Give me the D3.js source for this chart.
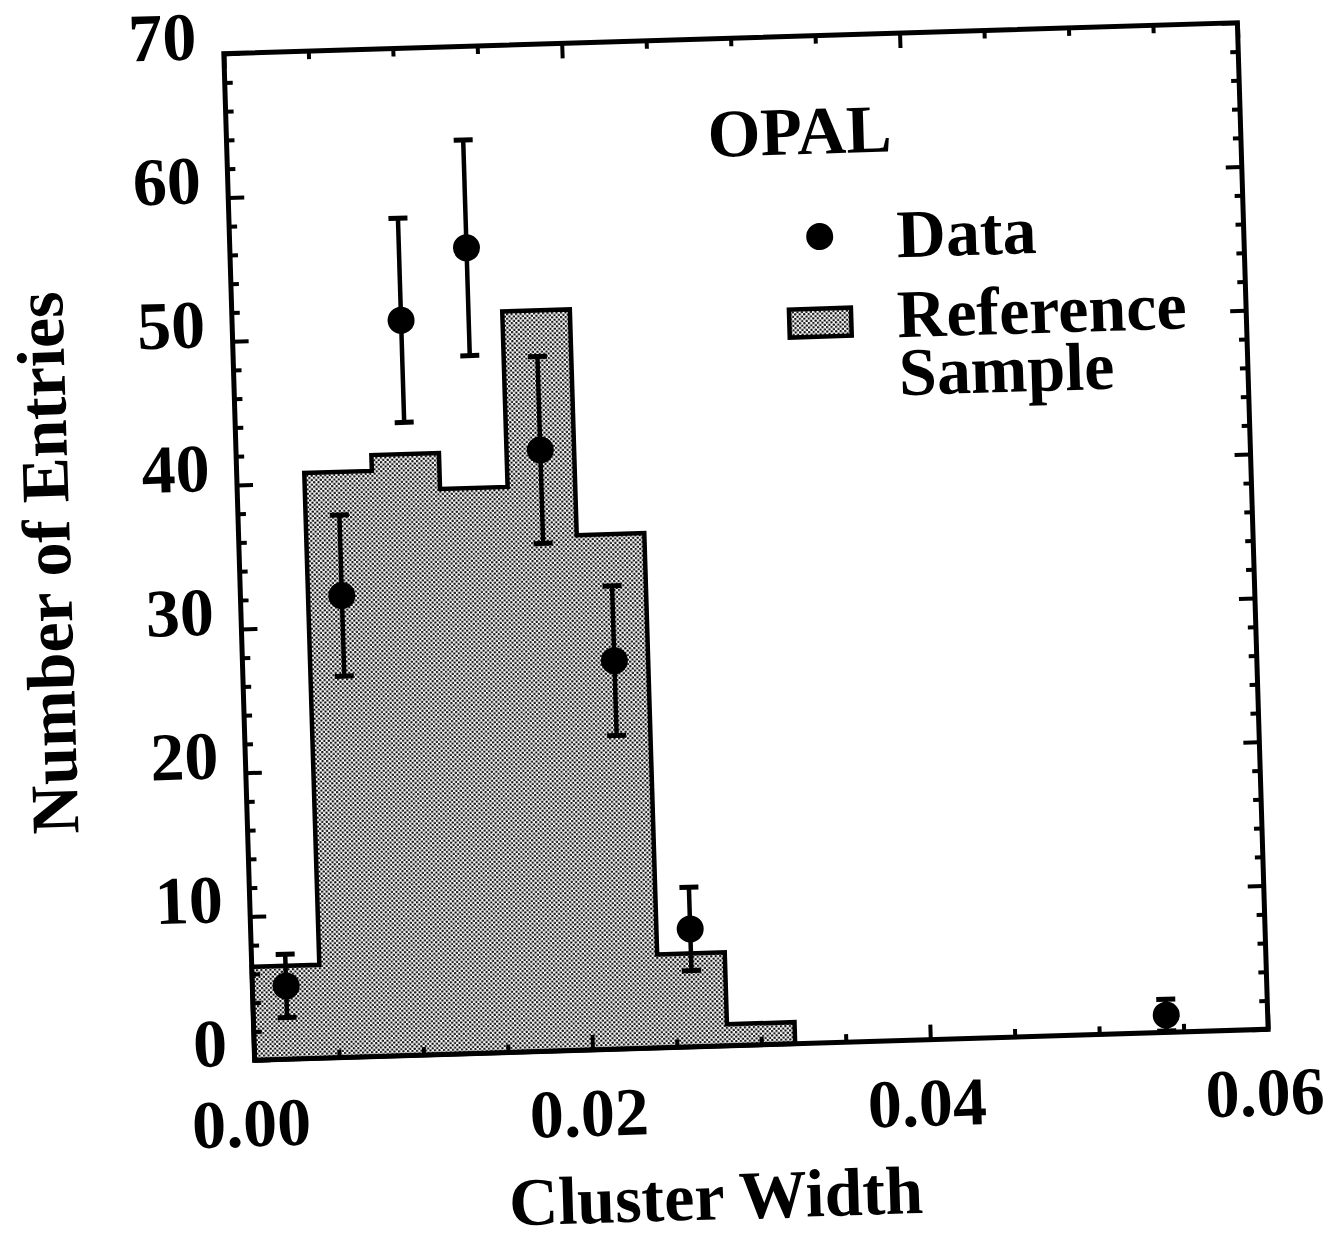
<!DOCTYPE html>
<html>
<head>
<meta charset="utf-8">
<script src="https://cdn.jsdelivr.net/npm/d3@7"></script>
<style>
  html, body { margin: 0; padding: 0; background: #ffffff; }
  svg { display: block; }
  text { font-family: "Liberation Serif", "Times New Roman", serif; font-weight: bold; fill: #000; }
</style>
</head>
<body>
<svg id="chart" width="1338" height="1249"></svg>
<script>
// ---- data ----
const binEdges = [0.000, 0.004, 0.008, 0.012, 0.016, 0.020, 0.024, 0.028, 0.032];
const refCounts = [6.5, 40.7, 41.8, 39.3, 51.5, 35.8, 6.5, 1.5];
const dataX = [0.002, 0.006, 0.010, 0.014, 0.018, 0.022, 0.026, 0.054];
const dataY = [5.1, 32.1, 51.1, 56.0, 41.8, 27.0, 8.2, 1.2];
const dataErr = [2.2, 5.6, 7.1, 7.5, 6.5, 5.2, 2.9, 1.1];
const xMajorTicks = [0.00, 0.02, 0.04, 0.06];
const xTickLabels = ["0.00", "0.02", "0.04", "0.06"];
const xMinorTicks = [0.005, 0.010, 0.015, 0.025, 0.030, 0.035, 0.045, 0.050, 0.055];
const yMajorTicks = [0, 10, 20, 30, 40, 50, 60, 70];
const yTickLabels = ["0", "10", "20", "30", "40", "50", "60", "70"];
const yMinorTicks = [2,4,6,8,12,14,16,18,22,24,26,28,32,34,36,38,42,44,46,48,52,54,56,58,62,64,66,68];
const legendTitle = "OPAL";
const legendData = "Data";
const legendRef = ["Reference", "Sample"];
const xTitle = "Cluster Width";
const yTitle = "Number of Entries";

// ---- layout ----
const L = 239, T = 38, W = 1014, H = 1007;
const svg = d3.select("#chart");
const defs = svg.append("defs");
const pat = defs.append("pattern").attr("id", "halftone")
  .attr("patternUnits", "userSpaceOnUse").attr("width", 4.5).attr("height", 4.5);
pat.append("rect").attr("width", 4.5).attr("height", 4.5).attr("fill", "#ffffff");
pat.append("circle").attr("cx", 1.125).attr("cy", 1.125).attr("r", 1.22).attr("fill", "#111");
pat.append("circle").attr("cx", 3.375).attr("cy", 3.375).attr("r", 1.22).attr("fill", "#111");

const root = svg.append("g").attr("transform", "rotate(-1.75, 746, 542)");

const x = d3.scaleLinear().domain([0, 0.06]).range([L, L + W]);
const y = d3.scaleLinear().domain([0, 70]).range([T + H, T]);

// histogram
const histPts = [[binEdges[0], 0]];
refCounts.forEach((c, i) => { histPts.push([binEdges[i], c]); histPts.push([binEdges[i + 1], c]); });
histPts.push([binEdges[binEdges.length - 1], 0]);
const line = d3.line().x(d => x(d[0])).y(d => y(d[1]));
root.append("path").attr("d", line(histPts) + "Z")
  .attr("fill", "url(#halftone)").attr("stroke", "#000").attr("stroke-width", 4.5)
  .attr("stroke-linejoin", "miter");

// axes ticks (inward)
function addAxis(axisFn, scale, vals, size, tr) {
  const g = root.append("g").attr("transform", tr)
    .call(axisFn(scale).tickValues(vals).tickSize(size).tickFormat(""));
  g.select(".domain").remove();
  g.selectAll("line").attr("stroke", "#000").attr("stroke-width", 4);
}
addAxis(d3.axisBottom, x, xMajorTicks, -15, `translate(0,${T + H})`);
addAxis(d3.axisBottom, x, xMinorTicks, -8, `translate(0,${T + H})`);
addAxis(d3.axisTop, x, xMajorTicks, -15, `translate(0,${T})`);
addAxis(d3.axisTop, x, xMinorTicks, -8, `translate(0,${T})`);
addAxis(d3.axisLeft, y, yMajorTicks, -16, `translate(${L},0)`);
addAxis(d3.axisLeft, y, yMinorTicks, -8, `translate(${L},0)`);
addAxis(d3.axisRight, y, yMajorTicks, -16, `translate(${L + W},0)`);
addAxis(d3.axisRight, y, yMinorTicks, -8, `translate(${L + W},0)`);

// frame
root.append("rect").attr("x", L).attr("y", T).attr("width", W).attr("height", H)
  .attr("fill", "none").attr("stroke", "#000").attr("stroke-width", 5);

// data points with error bars
const pts = root.append("g");
dataX.forEach((xv, i) => {
  const lo = Math.max(0, dataY[i] - dataErr[i]);
  const hi = dataY[i] + dataErr[i];
  const cx = x(xv);
  pts.append("line").attr("x1", cx).attr("x2", cx).attr("y1", y(lo)).attr("y2", y(hi))
    .attr("stroke", "#000").attr("stroke-width", 4.5);
  [hi, lo].forEach(v => {
    if (v > 0) pts.append("line").attr("x1", cx - 9.5).attr("x2", cx + 9.5)
      .attr("y1", y(v)).attr("y2", y(v)).attr("stroke", "#000").attr("stroke-width", 5);
  });
  pts.append("circle").attr("cx", cx).attr("cy", y(dataY[i])).attr("r", 13.5).attr("fill", "#000");
});

// tick labels
const fs = 68;
root.selectAll(".xl").data(xMajorTicks).enter().append("text")
  .attr("x", d => x(d) - 5).attr("y", T + H + 86)
  .attr("text-anchor", "middle").attr("font-size", fs)
  .text((d, i) => xTickLabels[i]);
root.selectAll(".yl").data(yMajorTicks).enter().append("text")
  .attr("x", L - 27).attr("y", d => y(d) + 5)
  .attr("text-anchor", "end").attr("font-size", fs)
  .text((d, i) => yTickLabels[i]);

// axis titles
root.append("text").attr("x", 696).attr("y", 1218).attr("text-anchor", "middle")
  .attr("font-size", fs).text(xTitle);
root.append("text").attr("transform", `translate(70, ${T + H / 2}) rotate(-90)`)
  .attr("text-anchor", "middle").attr("font-size", fs).text(yTitle);

// legend
root.append("text").attr("x", 720).attr("y", 156).attr("font-size", fs).text(legendTitle);
root.append("circle").attr("cx", 829).attr("cy", 239).attr("r", 13.5).attr("fill", "#000");
root.append("text").attr("x", 906).attr("y", 262).attr("font-size", fs).text(legendData);
root.append("rect").attr("x", 796).attr("y", 311).attr("width", 62).attr("height", 28)
  .attr("fill", "url(#halftone)").attr("stroke", "#000").attr("stroke-width", 4.5);
root.append("text").attr("x", 904).attr("y", 342).attr("font-size", fs).text(legendRef[0]);
root.append("text").attr("x", 904).attr("y", 400).attr("font-size", fs).text(legendRef[1]);
</script>
</body>
</html>
